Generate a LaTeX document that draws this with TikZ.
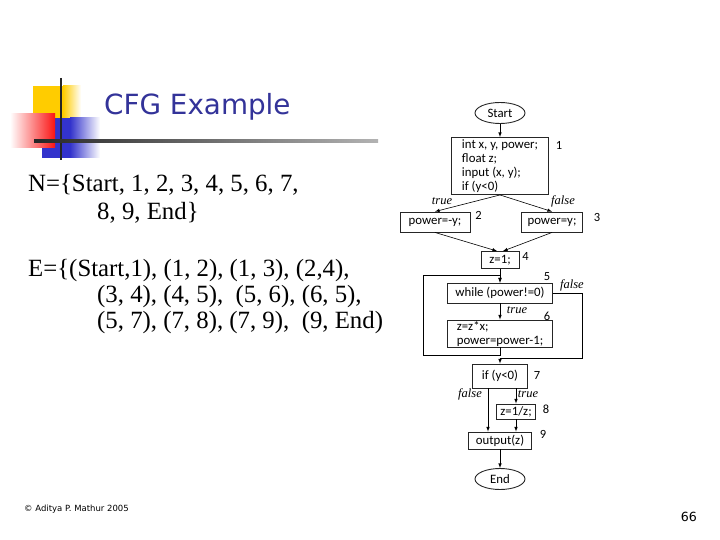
\documentclass[tikz,border=0pt]{standalone}
\usepackage{fontspec}
\setmainfont{Liberation Serif}
\newfontfamily\cfgfont{Carlito}
\newfontfamily\slidefont{DejaVu Sans}
\usetikzlibrary{shapes.geometric}

\definecolor{titleblue}{RGB}{51,51,153}
\definecolor{decoyellow}{RGB}{255,204,0}
\definecolor{decored}{RGB}{250,20,20}
\definecolor{decoblue}{RGB}{51,51,204}

\tikzstyle{cfg-block}=[draw=black!85,line width=0.9pt,inner sep=0pt,font=\cfgfont\fontsize{12.8pt}{14pt}\selectfont]
\tikzstyle{cfg-end}=[cfg-block,ellipse,minimum width=50pt,minimum height=21pt]
\tikzstyle{cfg-num}=[inner sep=0pt,font=\cfgfont\fontsize{12.5pt}{12.5pt}\selectfont]
\tikzstyle{cfg-cond}=[inner sep=0pt,font=\itshape\fontsize{12.5pt}{12.5pt}\selectfont]
\tikzstyle{cfg-flow}=[->,>=latex,line width=0.6pt]
\tikzstyle{set-line}=[anchor=base west,inner sep=0pt,font=\fontsize{24.8pt}{27pt}\selectfont]

\begin{document}
\begin{tikzpicture}[x=1pt,y=-1pt]
    \useasboundingbox (0,0) rectangle (720,540);

    \fill[decoyellow] (33,86) rectangle (63,118);
    \shade[left color=decoyellow,right color=white] (63,86) rectangle (81,118);
    \fill[decoblue] (42,118) rectangle (70,158);
    \shade[left color=decoblue,right color=white] (70,118) rectangle (100,158);
    \shade[left color=white,right color=decored] (10,114) rectangle (55,148);
    \draw[line width=2.5pt,black!85] (61,78) -- (61,160);
    \shade[left color=black!85,right color=black!30] (34,139.5) rectangle (378,142.5);

    \node[anchor=base west,inner sep=0pt,text=titleblue,font=\slidefont\fontsize{27.8pt}{27.8pt}\selectfont] (title) at (104,115) {CFG Example};

    \node[set-line] (nset1) at (28,192) {N=\{Start, 1, 2, 3, 4, 5, 6, 7,};
    \node[set-line] (nset2) at (97,220) {8, 9, End\}};
    \node[set-line] (eset1) at (28,276) {E=\{(Start,1), (1, 2), (1, 3), (2,4),};
    \node[set-line] (eset2) at (97,302) {(3, 4), (4, 5), \ (5, 6), (6, 5),};
    \node[set-line] (eset3) at (97,328) {(5, 7), (7, 8), (7, 9), \ (9, End)};

    \node[cfg-end]   (start) at (500,113) {Start};
    \node[cfg-block] (n1) [below of=start, node distance=53pt, minimum width=97pt, minimum height=57pt, align=left] {int x, y, power;\\float z;\\input (x, y);\\if (y<0)};
    \node[cfg-block] (n2) [below of=n1, node distance=56pt, xshift=-65pt, minimum width=70pt, minimum height=20pt] {power=-y;};
    \node[cfg-block] (n3) [below of=n1, node distance=56pt, xshift=52pt, minimum width=61pt, minimum height=20pt] {power=y;};
    \node[cfg-block] (n4) [below of=n1, node distance=94pt, minimum width=38pt, minimum height=17pt] {z=1;};
    \node[cfg-block] (n5) [below of=n4, node distance=33pt, minimum width=105pt, minimum height=20pt] {while (power!=0)};
    \node[cfg-block] (n6) [below of=n5, node distance=40.5pt, minimum width=105pt, minimum height=27pt, align=left] {z=z*x;\\power=power-1;};
    \node[cfg-block] (n7) [below of=n6, node distance=42.5pt, minimum width=55pt, minimum height=24pt] {if (y<0)};
    \node[cfg-block] (n8) [below of=n7, node distance=35.5pt, xshift=16pt, minimum width=39pt, minimum height=15pt] {z=1/z;};
    \node[cfg-block] (n9) [below of=n7, node distance=64.5pt, minimum width=63pt, minimum height=17pt] {output(z)};
    \node[cfg-end]   (end) [below of=n9, node distance=38.5pt] {End};

    \node[cfg-num] (num1) at ([xshift=10pt,yshift=-8pt]n1.north east) {1};
    \node[cfg-num] (num2) at ([xshift=8pt,yshift=-4pt]n2.north east) {2};
    \node[cfg-num] (num3) at ([xshift=14pt,yshift=-6pt]n3.north east) {3};
    \node[cfg-num] (num4) at ([xshift=6pt,yshift=-5.5pt]n4.north east) {4};
    \node[cfg-num] (num5) at ([xshift=-6pt,yshift=6pt]n5.north east) {5};
    \node[cfg-num] (num6) at ([xshift=-6pt,yshift=3pt]n6.north east) {6};
    \node[cfg-num] (num7) at ([xshift=9pt,yshift=-12pt]n7.north east) {7};
    \node[cfg-num] (num8) at ([xshift=10pt,yshift=-6pt]n8.north east) {8};
    \node[cfg-num] (num9) at ([xshift=11pt,yshift=-3pt]n9.north east) {9};

    \node[cfg-cond] (t1) at ([xshift=-58pt,yshift=-6pt]n1.south) {true};
    \node[cfg-cond] (f1) at ([xshift=63pt,yshift=-6pt]n1.south)  {false};
    \node[cfg-cond] (f5) at ([xshift=19pt,yshift=8pt]n5.east)    {false};
    \node[cfg-cond] (t5) at ([xshift=17pt,yshift=-7pt]n5.south)  {true};
    \node[cfg-cond] (f7) at ([xshift=-30pt,yshift=-6pt]n7.south) {false};
    \node[cfg-cond] (t7) at ([xshift=28pt,yshift=-6pt]n7.south)  {true};

    \coordinate (loop-b) at (423,355);
    \coordinate (loop-t) at (423,275);
    \coordinate (exit-r) at (582,358);
    \coordinate (n7-f)   at ([xshift=-12pt]n7.south);

    \draw[cfg-flow] (start) to (n1);
    \draw[cfg-flow] (n1.south) to (n2.north);
    \draw[cfg-flow] (n1.south) to (n3.north);
    \draw[cfg-flow] (n2.south) to ([xshift=-3pt]n4.north);
    \draw[cfg-flow] (n3.south) to ([xshift=3pt]n4.north);
    \draw[cfg-flow] (n4) to (n5);
    \draw[cfg-flow] (n5) to (n6);
    \draw[cfg-flow] (n6.south) |- (loop-b) -- (loop-t) -| (n5.north);
    \draw[cfg-flow] (n5.east) -| (exit-r) -| (n7.north);
    \draw[cfg-flow] (n7-f) to (n7-f |- n9.north);
    \draw[cfg-flow] (n7.south -| n8.north) to (n8.north);
    \draw[cfg-flow] (n8.south) to (n8.south |- n9.north);
    \draw[cfg-flow] (n9) to (end);

    \node[anchor=base west,inner sep=0pt,font=\slidefont\fontsize{8.5pt}{8.5pt}\selectfont] (copy) at (24,511) {© Aditya P. Mathur 2005};
    \node[anchor=base east,inner sep=0pt,font=\slidefont\fontsize{12.6pt}{12.6pt}\selectfont] (page) at (697,521) {66};
\end{tikzpicture}
\end{document}
